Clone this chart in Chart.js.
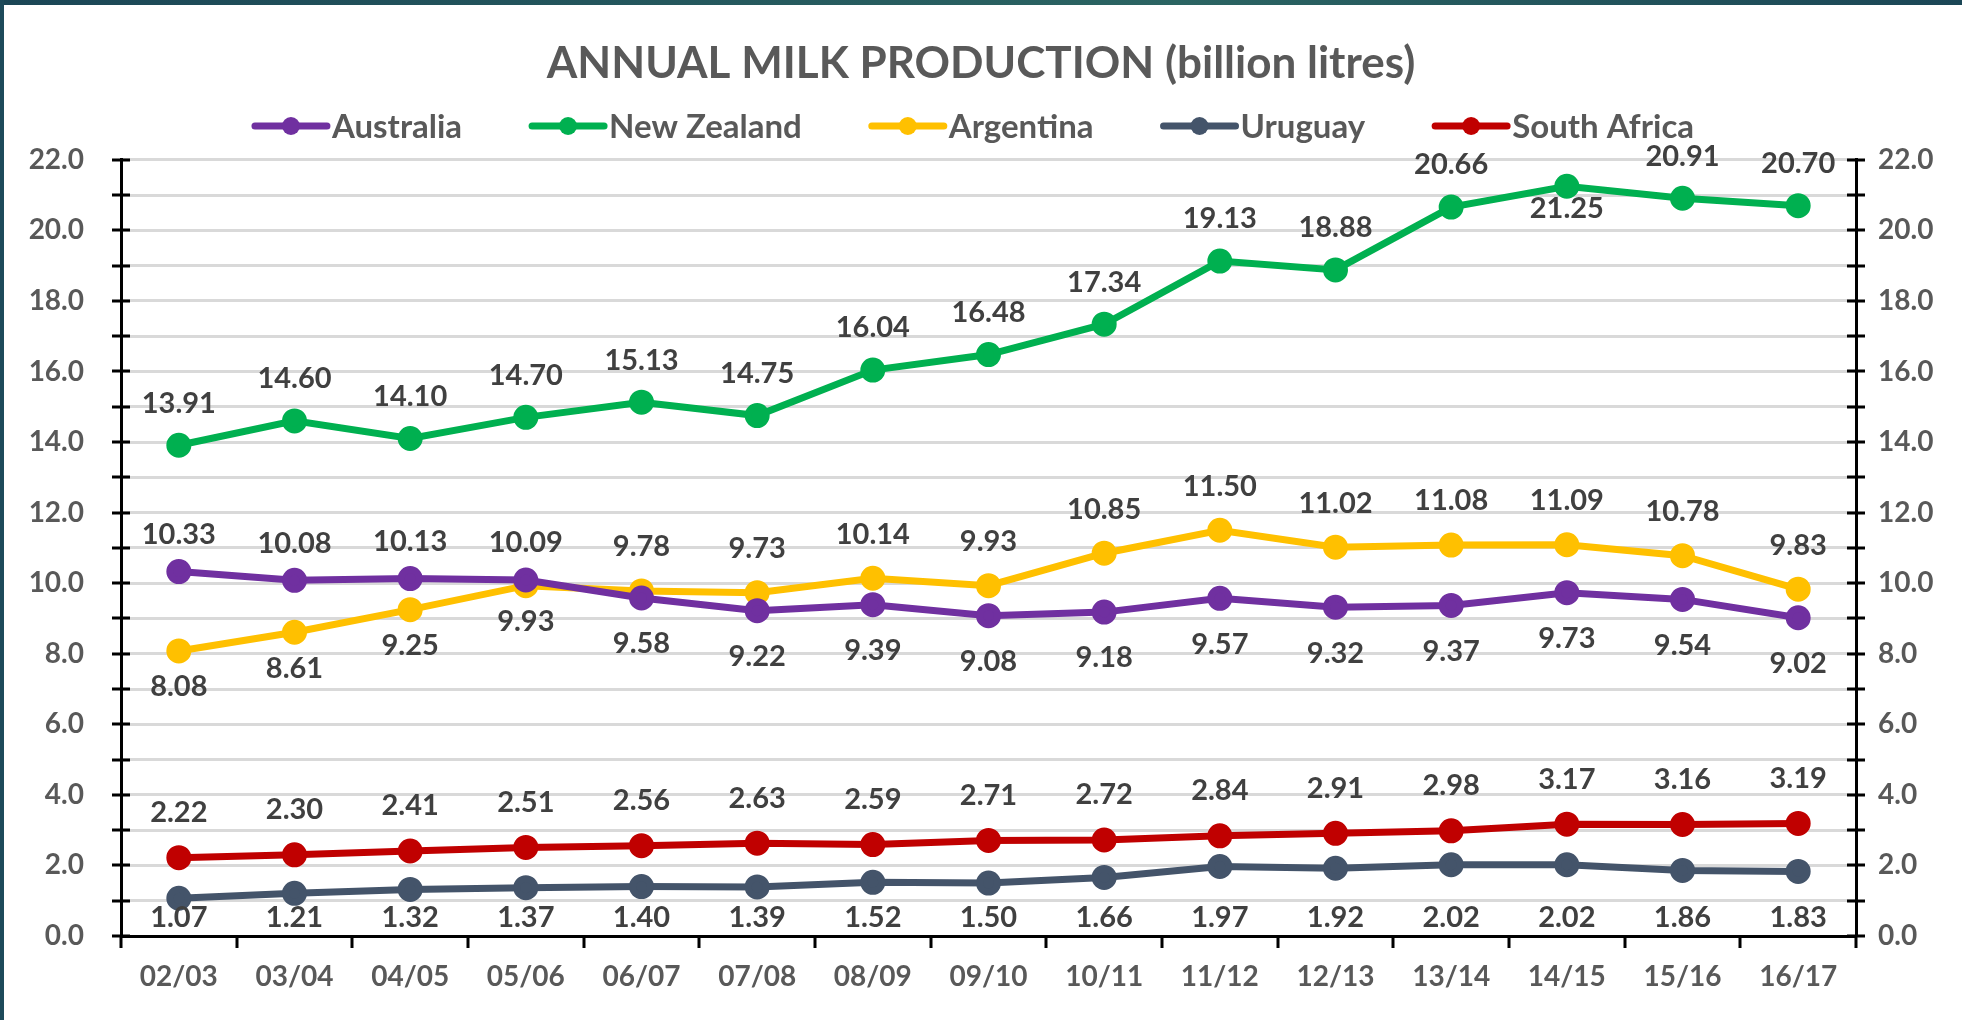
<!DOCTYPE html>
<html><head><meta charset="utf-8">
<script src="https://cdn.jsdelivr.net/npm/chart.js@4.4.1/dist/chart.umd.min.js"></script>
<style>
html,body{margin:0;padding:0;background:#fff;overflow:hidden}
#wrap{position:relative;width:1962px;height:1020px;background:#fff}
#topband{position:absolute;left:0;top:0;width:1962px;height:5px;background:linear-gradient(90deg,#1b4656,#2b6462 60%,#1b4656)}
#leftband{position:absolute;left:0;top:0;width:4px;height:1020px;background:#1d4a5a}
canvas{position:absolute;left:0;top:0}
</style></head><body>
<div id="wrap"><canvas id="c" width="1962" height="1020"></canvas><div id="topband"></div><div id="leftband"></div></div>
<script>
const categories = ['02/03','03/04','04/05','05/06','06/07','07/08','08/09','09/10','10/11','11/12','12/13','13/14','14/15','15/16','16/17'];
const australia   = [10.33,10.08,10.13,10.09,9.58,9.22,9.39,9.08,9.18,9.57,9.32,9.37,9.73,9.54,9.02];
const newZealand  = [13.91,14.60,14.10,14.70,15.13,14.75,16.04,16.48,17.34,19.13,18.88,20.66,21.25,20.91,20.70];
const argentina   = [8.08,8.61,9.25,9.93,9.78,9.73,10.14,9.93,10.85,11.50,11.02,11.08,11.09,10.78,9.83];
const uruguay     = [1.07,1.21,1.32,1.37,1.40,1.39,1.52,1.50,1.66,1.97,1.92,2.02,2.02,1.86,1.83];
const southAfrica = [2.22,2.30,2.41,2.51,2.56,2.63,2.59,2.71,2.72,2.84,2.91,2.98,3.17,3.16,3.19];
const seriesNames = ['Australia','New Zealand','Argentina','Uruguay','South Africa'];
const seriesColors = ['#7030A0','#00B050','#FFC000','#44546A','#C00000'];
const yMin = 0, yMax = 22, yStep = 1;

// label placement per series: 'a' above, 'b' below, 'base' near the axis
const labelPlace = [
  ['a','a','a','a','b','b','b','b','b','b','b','b','b','b','b'],
  ['a','a','a','a','a','a','a','a','a','a','a','a','b','a','a'],
  ['b','b','b','b','a','a','a','a','a','a','a','a','a','a','a'],
  Array(15).fill('base'),
  Array(15).fill('a')
];
const labelOff = [{a:37,b:46},{a:42,b:22},{a:44,b:36},{base:0.52},{a:45}];

const FONT = 'Lato';
const allData = [australia,newZealand,argentina,uruguay,southAfrica];
const datasets = allData.map((d,i)=>({
  label: seriesNames[i], data: d,
  borderColor: seriesColors[i], backgroundColor: seriesColors[i],
  pointBackgroundColor: seriesColors[i], pointBorderColor: seriesColors[i],
  borderWidth: 7, pointRadius: 9, pointHoverRadius: 9, tension: 0,
  yAxisID: 'y'
}));

const axisTicks = {
  id: 'axisTicks',
  afterDraw(chart){
    const ctx = chart.ctx, ca = chart.chartArea, ys = chart.scales.y, xs = chart.scales.x;
    ctx.save();
    ctx.strokeStyle = '#000'; ctx.lineWidth = 3;
    ctx.beginPath();
    for (let v = yMin; v <= yMax; v += yStep){
      const py = Math.round(ys.getPixelForValue(v));
      ctx.moveTo(ca.left-9, py); ctx.lineTo(ca.left+9, py);
      ctx.moveTo(ca.right-9, py); ctx.lineTo(ca.right+9, py);
    }
    const half = (xs.getPixelForValue(1)-xs.getPixelForValue(0))/2;
    for (let i = 0; i <= categories.length; i++){
      const px = Math.round(xs.getPixelForValue(i) - half);
      ctx.moveTo(px, ca.bottom); ctx.lineTo(px, ca.bottom+12);
    }
    ctx.stroke();
    ctx.restore();
  }
};

const dataLabels = {
  id: 'dataLabels',
  afterDatasetsDraw(chart){
    const ctx = chart.ctx, ys = chart.scales.y;
    ctx.save();
    ctx.font = 'bold 29px ' + FONT;
    ctx.fillStyle = '#404040';
    ctx.textAlign = 'center'; ctx.textBaseline = 'middle';
    chart.data.datasets.forEach((ds, di) => {
      const meta = chart.getDatasetMeta(di);
      meta.data.forEach((el, i) => {
        const p = labelPlace[di][i], off = labelOff[di];
        let y;
        if (p === 'a') y = el.y - off.a;
        else if (p === 'b') y = el.y + off.b;
        else y = ys.getPixelForValue(off.base);
        ctx.fillText(ds.data[i].toFixed(2), el.x, y);
      });
    });
    ctx.restore();
  }
};

const customLegend = {
  id: 'customLegend',
  afterDraw(chart){
    const ctx = chart.ctx;
    ctx.save();
    ctx.font = 'bold 33px ' + FONT;
    const lineLen = 78, textGap = 2, itemGap = 67, y = 126;
    const widths = seriesNames.map(n => lineLen + textGap + ctx.measureText(n).width);
    const total = widths.reduce((a,b)=>a+b,0) + itemGap*(seriesNames.length-1);
    let x = 973 - total/2;
    ctx.textBaseline = 'middle';
    seriesNames.forEach((n,i)=>{
      ctx.strokeStyle = seriesColors[i]; ctx.lineWidth = 7; ctx.lineCap = 'round';
      ctx.beginPath(); ctx.moveTo(x+3, y); ctx.lineTo(x+lineLen-3, y); ctx.stroke();
      ctx.fillStyle = seriesColors[i];
      ctx.beginPath(); ctx.arc(x+lineLen/2, y, 9, 0, Math.PI*2); ctx.fill();
      ctx.fillStyle = '#595959'; ctx.textAlign = 'left';
      ctx.fillText(n, x+lineLen+textGap, y+1);
      x += widths[i] + itemGap;
    });
    ctx.restore();
  }
};

const tickCb = v => (Math.round(v) % 2 === 0 ? Number(v).toFixed(1) : '');

new Chart(document.getElementById('c'), {
  type: 'line',
  data: { labels: categories, datasets },
  options: {
    responsive: false, animation: false, devicePixelRatio: 1,
    layout: { padding: { left: 0, right: 0, top: 0, bottom: 0 } },
    plugins: {
      legend: { display: false },
      tooltip: { enabled: false },
      title: {
        display: true, text: 'ANNUAL MILK PRODUCTION (billion litres)',
        color: '#595959', font: { family: FONT, size: 44, weight: 'bold', lineHeight: 1.2 },
        padding: { top: 37, bottom: 70 }
      }
    },
    scales: {
      x: {
        offset: true,
        grid: { display: true, drawOnChartArea: false, drawTicks: false, offset: true },
        border: { display: true, color: '#000', width: 3 },
        ticks: { color: '#595959', font: { family: FONT, size: 28, weight: 'bold' }, padding: 24, maxRotation: 0, autoSkip: false },
        afterFit(s){ s.height = 84; }
      },
      y: {
        position: 'left', min: yMin, max: yMax,
        grid: { color: '#D9D9D9', lineWidth: 3, drawTicks: false },
        border: { display: true, color: '#000', width: 3 },
        ticks: { stepSize: yStep, autoSkip: false, callback: tickCb, color: '#595959', font: { family: FONT, size: 28, weight: 'bold' }, padding: 37 },
        afterFit(s){ s.width = 121; }
      },
      y2: {
        position: 'right', min: yMin, max: yMax,
        grid: { drawOnChartArea: false, drawTicks: false },
        border: { display: true, color: '#000', width: 3 },
        ticks: { stepSize: yStep, autoSkip: false, callback: tickCb, color: '#595959', font: { family: FONT, size: 28, weight: 'bold' }, padding: 22 },
        afterFit(s){ s.width = 106; }
      }
    }
  },
  plugins: [axisTicks, dataLabels, customLegend]
});
</script>
</body></html>
